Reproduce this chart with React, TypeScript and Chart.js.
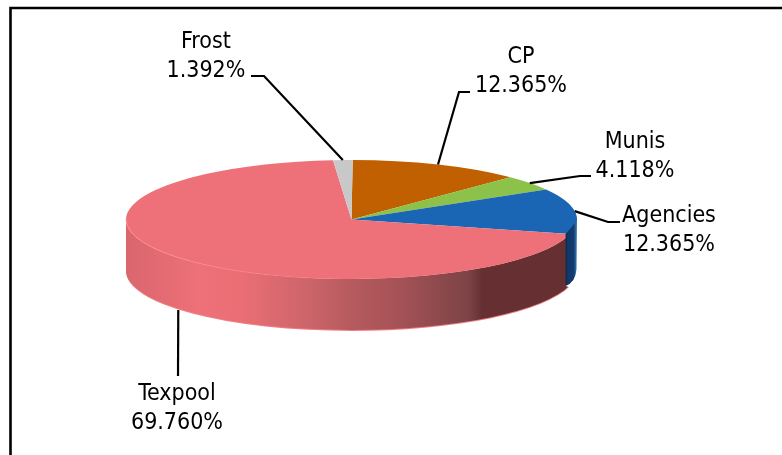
import React, { useEffect, useRef } from "react";
import { Chart, registerables } from "chart.js";

Chart.register(...registerables);

const categories = ["CP", "Munis", "Agencies", "Texpool", "Frost"];
const shares = [12.365, 4.118, 12.365, 69.76, 1.392];
const shareLabels = ["12.365%", "4.118%", "12.365%", "69.760%", "1.392%"];
const sliceColors = ["#C06000", "#8CC14A", "#1A66B5", "#EE7078", "#C8C8C8"];

const FONT = '23px "DejaVu Sans Condensed", "DejaVu Sans"';
const CENTER_X = 351.5;
const CENTER_Y = 219.5;
const RADIUS_X = 225.5;
const RADIUS_Y = 59.5;
const DEPTH = 52;
const CORNER_CUT = 4.5;

// label layout: text centre, first baseline, leader elbow points (label end first)
const labelLayout = [
  { x: 521, y: 63, leader: [[470, 92], [459, 92]], anchorDx: 0 },
  { x: 635, y: 148, leader: [[591, 176], [580, 176]], anchorDx: 0 },
  { x: 669, y: 222, leader: [[620, 222], [608, 222]], anchorDx: 0 },
  { x: 177, y: 400, leader: [[178, 376]], anchorDx: -1.2 },
  { x: 206, y: 48, leader: [[251, 76], [264, 76]], anchorDx: 0 },
];

const wallStops: [number, string][] = [
  [0, "#D9666E"],
  [0.16, "#EE7078"],
  [0.25, "#EB6E75"],
  [0.39, "#CF666C"],
  [0.5, "#B65A5E"],
  [0.61, "#A45256"],
  [0.76, "#7C4346"],
  [0.79, "#663032"],
  [1, "#663032"],
];

const ratio = RADIUS_Y / RADIUS_X;

function wallPath(ctx: CanvasRenderingContext2D, x: number, y: number, r: number, a1: number, a2: number, depth: number) {
  ctx.beginPath();
  ctx.ellipse(x, y, r, r * ratio, 0, a1, a2);
  ctx.ellipse(x, y + depth, r, r * ratio, 0, a2, a1, true);
  ctx.closePath();
}

const pie3d = {
  id: "pie3d",
  beforeDatasetsDraw(chart: any) {
    const { ctx } = chart;
    const arcs = chart.getDatasetMeta(0).data;
    ctx.save();
    arcs.forEach((arc: any, i: number) => {
      if (categories[i] !== "Texpool") return;
      const a1 = Math.max(arc.startAngle, 0);
      const a2 = Math.min(arc.endAngle, Math.PI);
      const r = arc.outerRadius;
      const left = arc.x - r;
      const right = arc.x + r;
      const g = ctx.createLinearGradient(left, 0, right, 0);
      wallStops.forEach(([o, c]) => g.addColorStop(o, c));
      // light rim along the bottom edge only
      wallPath(ctx, arc.x, arc.y, r, a1, a2, DEPTH);
      ctx.fillStyle = "#F08088";
      ctx.fill();
      wallPath(ctx, arc.x, arc.y, r, a1, a2, DEPTH - 1);
      ctx.fillStyle = g;
      ctx.fill();
    });
    ctx.translate(CENTER_X, CENTER_Y);
    ctx.scale(1, ratio);
    ctx.translate(-CENTER_X, -CENTER_Y);
  },
  afterDatasetsDraw(chart: any) {
    const { ctx, width, height } = chart;
    ctx.restore();
    const arcs = chart.getDatasetMeta(0).data;
    ctx.save();

    arcs.forEach((arc: any, i: number) => {
      const r = arc.outerRadius;
      const ry = r * ratio;
      if (categories[i] === "Texpool") {
        // pale bevel where the top face meets the wall, fading to the right
        const g = ctx.createLinearGradient(arc.x - r, 0, arc.x, 0);
        g.addColorStop(0, "rgba(255,150,156,0.9)");
        g.addColorStop(1, "rgba(255,150,156,0)");
        ctx.beginPath();
        ctx.ellipse(arc.x, arc.y, r, ry, 0, Math.PI / 2, Math.PI);
        ctx.strokeStyle = g;
        ctx.lineWidth = 1;
        ctx.stroke();
      }
      if (categories[i] === "Agencies") {
        // dark blue wall of the slice, with its chamfered corner
        const cx = arc.x + r * Math.cos(arc.endAngle) - CORNER_CUT;
        const cy = arc.y + ry * Math.sin(arc.endAngle);
        const ox = arc.x + r;
        const g = ctx.createLinearGradient(cx, 0, ox, 0);
        g.addColorStop(0, "#0A2747");
        g.addColorStop(0.2, "#123868");
        g.addColorStop(0.7, "#123C70");
        g.addColorStop(1, "#3E7DB8");
        ctx.beginPath();
        ctx.moveTo(ox, arc.y + 1);
        ctx.lineTo(cx, cy);
        ctx.lineTo(cx, cy + DEPTH);
        ctx.quadraticCurveTo(ox - 1, cy + DEPTH - 4, ox - 0.5, arc.y + DEPTH - 2);
        ctx.closePath();
        ctx.fillStyle = g;
        ctx.fill();
        // hide the end of the pink wall past the corner
        ctx.beginPath();
        ctx.moveTo(cx, cy + DEPTH);
        ctx.lineTo(cx + 6, cy + DEPTH + 2);
        ctx.quadraticCurveTo(ox + 1, cy + DEPTH - 2, ox - 0.5, arc.y + DEPTH - 2);
        ctx.quadraticCurveTo(ox - 1, cy + DEPTH - 4, cx, cy + DEPTH);
        ctx.closePath();
        ctx.fillStyle = "#FFFFFF";
        ctx.fill();
      }
    });

    // outer frame: left and top only, the others run off the picture
    ctx.strokeStyle = "#000000";
    ctx.lineWidth = 2.6;
    ctx.beginPath();
    ctx.moveTo(10.5, height + 2);
    ctx.lineTo(10.5, 8);
    ctx.lineTo(width + 2, 8);
    ctx.stroke();

    ctx.font = FONT;
    ctx.fillStyle = "#000000";
    ctx.textAlign = "center";
    ctx.textBaseline = "alphabetic";
    arcs.forEach((arc: any, i: number) => {
      const layout = labelLayout[i];
      const mid = (arc.startAngle + arc.endAngle) / 2;
      const ax = arc.x + arc.outerRadius * Math.cos(mid) + layout.anchorDx;
      const sinMid = Math.sin(mid);
      const ay = arc.y + arc.outerRadius * ratio * sinMid + (sinMid > 0.5 ? DEPTH : 0);
      ctx.beginPath();
      layout.leader.forEach(([px, py], k) => (k ? ctx.lineTo(px, py) : ctx.moveTo(px, py)));
      ctx.lineTo(ax, ay);
      ctx.lineWidth = 2.2;
      ctx.stroke();
      ctx.fillText(categories[i], layout.x, layout.y);
      ctx.fillText(shareLabels[i], layout.x, layout.y + 29);
    });
    ctx.restore();
  },
};

export default function App() {
  const ref = useRef<HTMLCanvasElement>(null);
  useEffect(() => {
    document.body.style.margin = "0";
    document.body.style.background = "#ffffff";
    const chart = new Chart(ref.current as HTMLCanvasElement, {
      type: "pie",
      data: {
        labels: categories,
        datasets: [
          {
            data: shares,
            backgroundColor: sliceColors,
            borderWidth: 0,
            radius: RADIUS_X,
            clip: false,
          } as any,
        ],
      },
      options: {
        responsive: false,
        animation: false,
        rotation: 0.3,
        layout: { padding: { left: 0, top: 0, right: 782 - 2 * CENTER_X, bottom: 455 - 2 * CENTER_Y } },
        plugins: { legend: { display: false }, tooltip: { enabled: false }, title: { display: false } },
      },
      plugins: [pie3d],
    });
    return () => chart.destroy();
  }, []);
  return <canvas ref={ref} width={782} height={455} style={{ display: "block", width: 782, height: 455 }} />;
}
